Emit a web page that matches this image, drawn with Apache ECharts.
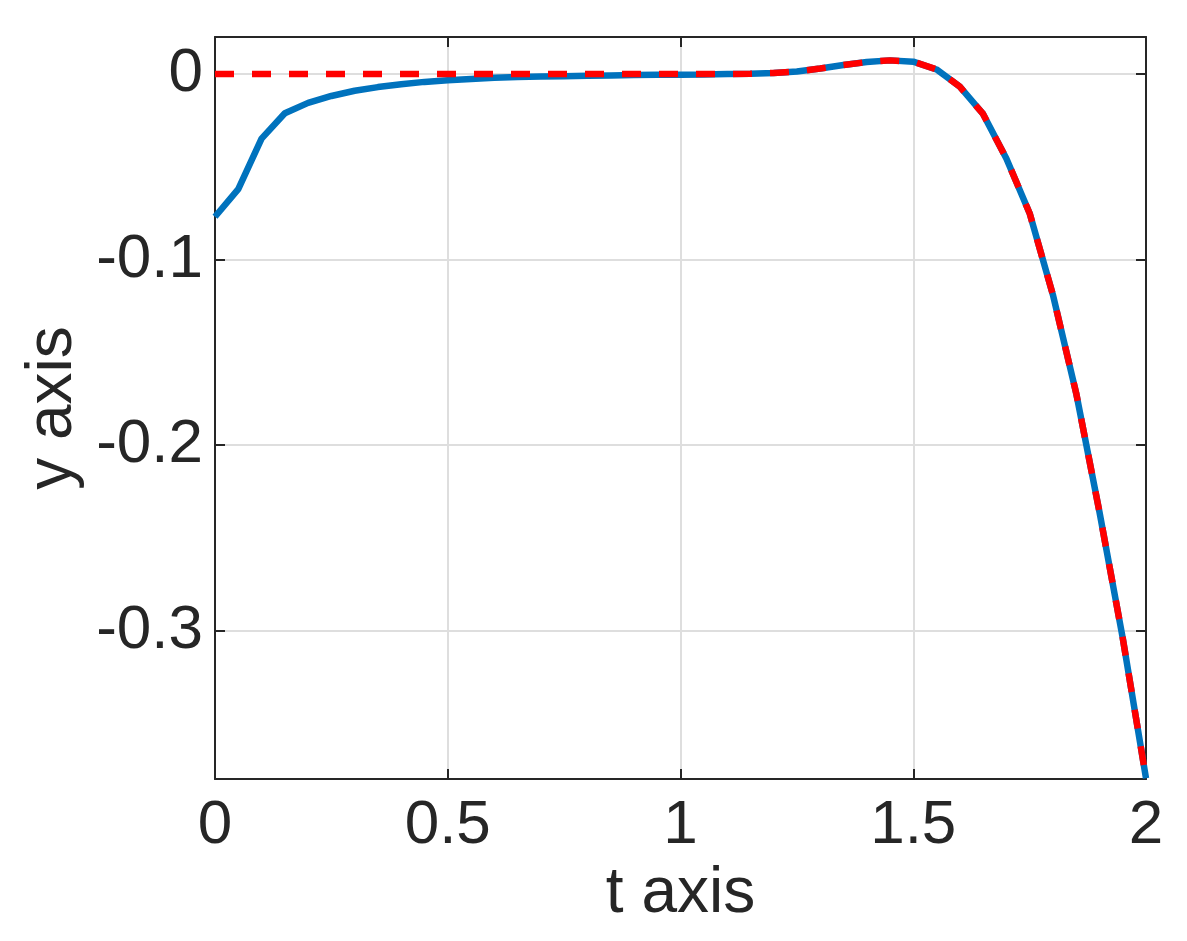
<!DOCTYPE html>
<html>
<head>
<meta charset="utf-8">
<script src="https://cdn.jsdelivr.net/npm/echarts@6/dist/echarts.min.js"></script>
<style>
  html, body { margin: 0; padding: 0; background: #fff; }
  #chart { width: 1187px; height: 941px; }
</style>
</head>
<body>
<div id="chart"></div>
<script>
// time samples (step 0.05)
var tValues = [0, 0.05, 0.1, 0.15, 0.2, 0.25, 0.3, 0.35, 0.4, 0.45, 0.5, 0.55, 0.6, 0.65, 0.7, 0.75,
  0.8, 0.85, 0.9, 0.95, 1.0, 1.05, 1.1, 1.15, 1.2, 1.25, 1.3, 1.35, 1.4, 1.45, 1.5, 1.55,
  1.6, 1.65, 1.7, 1.75, 1.8, 1.85, 1.9, 1.95, 2.0]

// numerical solution (blue, solid)
var yNumeric = [-0.0769, -0.0620, -0.0348, -0.0211, -0.0155, -0.0118, -0.0090, -0.0070, -0.0055, -0.0042, -0.0033, -0.0026, -0.0020, -0.0016, -0.0013, -0.0011,
  -0.0009, -0.0007, -0.0005, -0.0004, -0.0003, -0.0002, 0.0000, 0.0002, 0.0006, 0.0014, 0.0030, 0.0049, 0.0065, 0.0074, 0.0067, 0.0025,
  -0.0068, -0.0215, -0.0455, -0.0750, -0.1190, -0.1720, -0.2360, -0.3040, -0.3796]

// exact solution (red, dashed)
var yExact = [0, 0, 0, 0, 0, 0, 0, 0, 0, 0, 0, 0, 0, 0, 0, 0,
  0, 0, 0, 0, 0, 0, 0, 0.0002, 0.0006, 0.0014, 0.0030, 0.0049, 0.0065, 0.0074, 0.0067, 0.0025,
  -0.0068, -0.0215, -0.0455, -0.0750, -0.1190, -0.1720, -0.2360, -0.3040, -0.3796]

var xTicks = [0, 0.5, 1, 1.5, 2]
var yRange = [-0.38, 0.02]

function pairs (xs, ys) {
  return xs.map(function (x, i) { return [x, ys[i]] })
}

var axisColor = '#262626'
var fontFamily = '"Liberation Sans", Arial, Helvetica, sans-serif'

var tickStyle = { show: true, inside: true, length: 10, lineStyle: { color: axisColor, width: 2 } }
var lineStyle = { show: true, onZero: false, lineStyle: { color: axisColor, width: 2 } }

var option = {
  animation: false,
  backgroundColor: '#fff',
  grid: { left: 215, right: 41, top: 37, bottom: 162, containLabel: false },
  xAxis: [
    {
      type: 'value',
      position: 'bottom',
      min: xTicks[0],
      max: xTicks[xTicks.length - 1],
      interval: 0.5,
      name: 't axis',
      nameLocation: 'middle',
      nameGap: 80,
      nameTextStyle: { color: axisColor, fontSize: 64, fontFamily: fontFamily },
      axisLine: lineStyle,
      axisTick: tickStyle,
      axisLabel: { color: axisColor, fontSize: 62, fontFamily: fontFamily, margin: 16 },
      splitLine: { show: true, lineStyle: { color: '#dedede', width: 2 } }
    },
    {
      type: 'value',
      position: 'top',
      min: xTicks[0],
      max: xTicks[xTicks.length - 1],
      interval: 0.5,
      axisLine: lineStyle,
      axisTick: tickStyle,
      axisLabel: { show: false },
      splitLine: { show: false }
    }
  ],
  yAxis: [
    {
      type: 'value',
      position: 'left',
      min: yRange[0],
      max: yRange[1],
      splitNumber: 4,
      name: 'y axis',
      nameLocation: 'middle',
      nameGap: 128,
      nameTextStyle: { color: axisColor, fontSize: 64, fontFamily: fontFamily },
      axisLine: lineStyle,
      axisTick: tickStyle,
      axisLabel: {
        color: axisColor, fontSize: 62, fontFamily: fontFamily, margin: 12,
        showMinLabel: false, showMaxLabel: false
      },
      splitLine: { show: true, lineStyle: { color: '#dedede', width: 2 } }
    },
    {
      type: 'value',
      position: 'right',
      min: yRange[0],
      max: yRange[1],
      splitNumber: 4,
      axisLine: lineStyle,
      axisTick: tickStyle,
      axisLabel: { show: false },
      splitLine: { show: false }
    }
  ],
  series: [
    {
      name: 'numerical',
      type: 'line',
      xAxisIndex: 0,
      yAxisIndex: 0,
      showSymbol: false,
      data: pairs(tValues, yNumeric),
      lineStyle: { color: '#0072BD', width: 6.5 },
      z: 3
    },
    {
      name: 'exact',
      type: 'line',
      xAxisIndex: 0,
      yAxisIndex: 0,
      showSymbol: false,
      data: pairs(tValues, yExact),
      lineStyle: { color: '#FF0000', width: 6.5, type: [19, 18] },
      z: 4
    }
  ]
}

var chart = echarts.init(document.getElementById('chart'))
chart.setOption(option)
</script>
</body>
</html>
